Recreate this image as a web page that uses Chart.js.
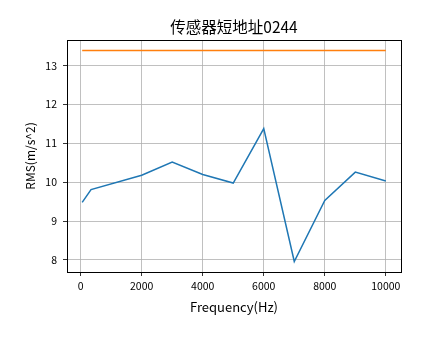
<!DOCTYPE html>
<html>
<head>
<meta charset="utf-8">
<script src="https://cdn.jsdelivr.net/npm/chart.js@4/dist/chart.umd.min.js"></script>
<style>
  html, body { margin: 0; padding: 0; background: #fff; }
  #wrap { width: 444px; height: 341px; }
</style>
</head>
<body>
<div id="wrap"><canvas id="rmsChart" width="444" height="341"></canvas></div>
<script>
// data
const chartTitle = '传感器短地址0244';
const freqs = [50, 340, 2000, 3000, 4000, 5000, 6000, 7000, 8000, 9000, 10000];
const rmsValues = [9.48, 9.81, 10.18, 10.52, 10.20, 9.98, 11.38, 7.96, 9.53, 10.26, 10.03];
const limitFreqs = [50, 10000];
const limitValues = [13.39, 13.39];
const xTicks = [0, 2000, 4000, 6000, 8000, 10000];
const yTicks = [8, 9, 10, 11, 12, 13];

const FONT = '"Noto Sans CJK SC", "DejaVu Sans", sans-serif';

// matplotlib style frame + title
const framePlugin = {
    id: 'frame',
    afterDraw(chart) {
        const { ctx, chartArea: a } = chart;
        ctx.save();
        ctx.strokeStyle = '#000';
        ctx.lineWidth = 1;
        ctx.strokeRect(Math.round(a.left) + 0.5, Math.round(a.top) + 0.5,
            Math.round(a.right - a.left), Math.round(a.bottom - a.top));
        ctx.fillStyle = '#000';
        ctx.font = '15.5px ' + FONT;
        ctx.textAlign = 'center';
        ctx.textBaseline = 'middle';
        ctx.fillText(chartTitle, (a.left + a.right) / 2, 27);
        ctx.restore();
    }
};

function toPoints(xs, ys) {
    return xs.map((x, i) => ({ x: x, y: ys[i] }));
}

const ctx = document.getElementById('rmsChart').getContext('2d');
new Chart(ctx, {
    type: 'line',
    data: {
        datasets: [{
            data: toPoints(freqs, rmsValues),
            borderColor: '#1f77b4',
            borderWidth: 1.5,
            pointRadius: 0,
            tension: 0,
            fill: false
        }, {
            data: toPoints(limitFreqs, limitValues),
            borderColor: '#ff7f0e',
            borderWidth: 1.5,
            pointRadius: 0,
            tension: 0,
            fill: false
        }]
    },
    options: {
        responsive: false,
        animation: false,
        layout: { padding: { left: 0, right: 43, top: 40, bottom: 0 } },
        plugins: {
            legend: { display: false },
            tooltip: { enabled: false },
            title: { display: false }
        },
        scales: {
            x: {
                type: 'linear',
                min: -447.5,
                max: 10497.5,
                afterBuildTicks: scale => { scale.ticks = xTicks.map(v => ({ value: v })); },
                afterFit: scale => { scale.height = 69; },
                grid: { color: '#b0b0b0', lineWidth: 0.8, tickColor: '#000', tickLength: 4 },
                border: { display: false },
                ticks: {
                    color: '#000',
                    font: { family: FONT, size: 10.5 },
                    padding: 4,
                    maxRotation: 0,
                    callback: v => String(v)
                },
                title: {
                    display: true,
                    text: 'Frequency(Hz)',
                    color: '#000',
                    font: { family: FONT, size: 13 },
                    padding: { top: 0, bottom: 26 }
                }
            },
            y: {
                min: 7.69,
                max: 13.66,
                afterBuildTicks: scale => { scale.ticks = yTicks.map(v => ({ value: v })); },
                afterFit: scale => { scale.width = 67; },
                grid: { color: '#b0b0b0', lineWidth: 0.8, tickColor: '#000', tickLength: 4 },
                border: { display: false },
                ticks: {
                    color: '#000',
                    font: { family: FONT, size: 10.5 },
                    padding: 6,
                    callback: v => String(v)
                },
                title: {
                    display: true,
                    text: 'RMS(m/s^2)',
                    color: '#000',
                    font: { family: FONT, size: 12 },
                    padding: { top: 23, bottom: 0 }
                }
            }
        }
    },
    plugins: [framePlugin]
});
</script>
</body>
</html>
